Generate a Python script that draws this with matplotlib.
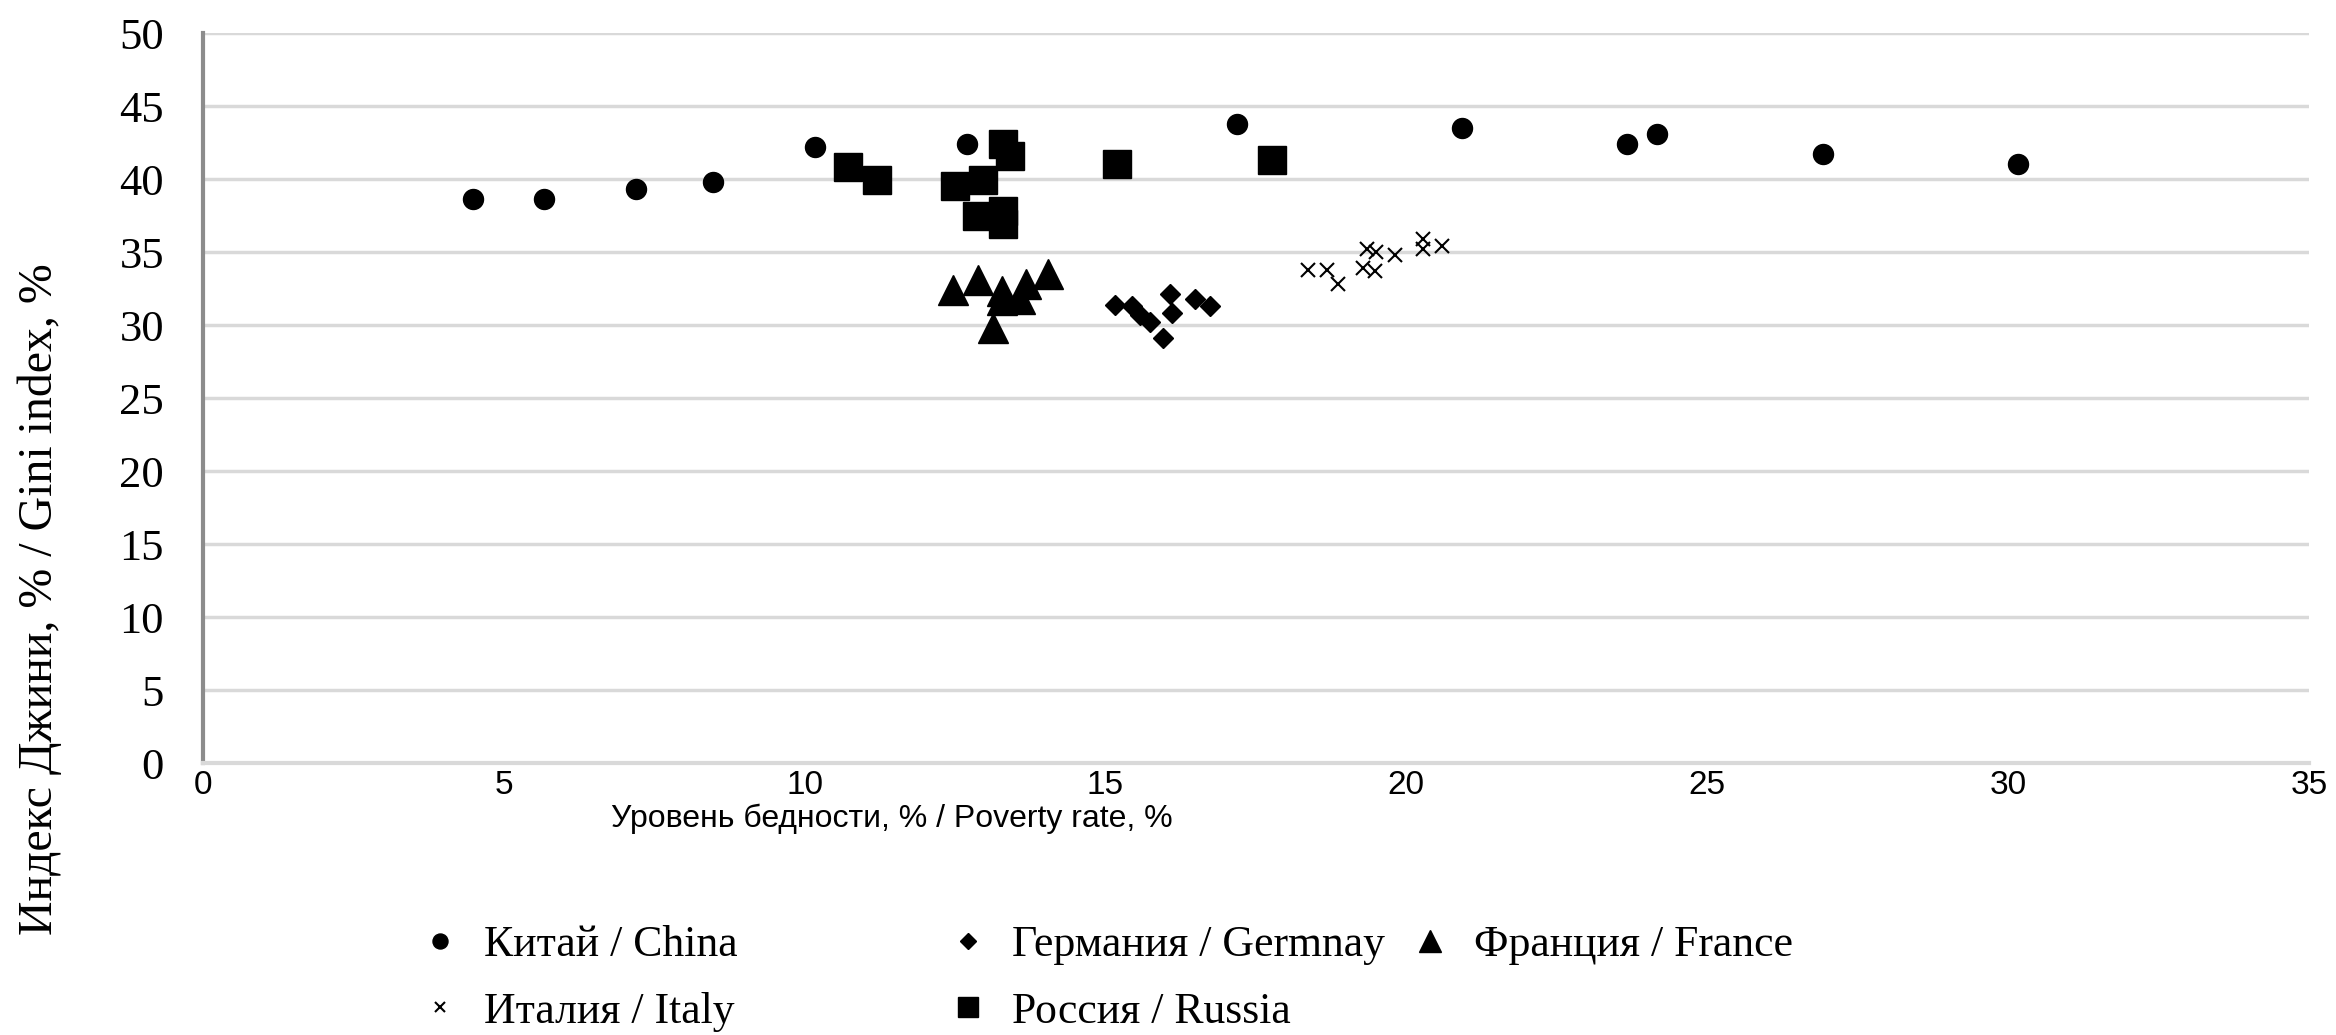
import numpy as np
import matplotlib
matplotlib.use("Agg")
import matplotlib.pyplot as plt

#poverty rate (x) and gini index (y) for each country
china_x=[4.49,5.67,7.2,8.48,10.17,12.70,17.18,20.92,23.67,24.17,26.93,30.17]
china_y=[38.6,38.6,39.3,39.8,42.2,42.4,43.8,43.5,42.4,43.1,41.7,41.0]

germany_x=[15.16,15.44,15.57,15.74,15.95,16.07,16.1,16.49,16.74]
germany_y=[31.4,31.3,30.7,30.2,29.1,32.1,30.8,31.8,31.3]

france_x=[12.47,12.88,13.28,13.68,14.04,13.28,13.58,13.13]
france_y=[32.4,33.1,32.3,32.8,33.5,31.7,31.8,29.8]

italy_x=[18.37,18.68,18.86,19.35,19.5,19.28,19.48,19.81,20.28,20.28,20.59]
italy_y=[33.8,33.8,32.8,35.2,35.0,33.9,33.7,34.8,35.9,35.2,35.4]

russia_x=[10.72,11.2,13.29,13.41,12.50,12.96,12.86,13.29,13.29,15.19,17.77]
russia_y=[40.8,39.9,42.4,41.6,39.5,39.9,37.5,37.8,36.9,41.0,41.3]

labels=["Китай / China","Германия / Germnay","Франция / France",
        "Италия / Italy","Россия / Russia"]

xticks=[0,5,10,15,20,25,30,35]
yticks=[0,5,10,15,20,25,30,35,40,45,50]

serif=["Liberation Serif","DejaVu Serif"]
sans=["Liberation Sans","DejaVu Sans"]

fig=plt.figure(figsize=(23.36,10.35),dpi=100)
ax=fig.add_axes([0.0869,0.2628,0.9015,0.7053])

#scatter every country, black markers
h_china,=ax.plot(china_x,china_y,"o",color="black",ms=14.4,ls="none")
h_germ,=ax.plot(germany_x,germany_y,"D",color="black",ms=10.2,ls="none")
h_fr,=ax.plot(france_x,france_y,"^",color="black",ms=22,ls="none")
h_it,=ax.plot(italy_x,italy_y,"x",color="black",ms=10,mew=1.5,ls="none")
h_ru,=ax.plot(russia_x,russia_y,"s",color="black",ms=19.8,ls="none")

ax.set_xlim(0,35)
ax.set_ylim(0,50)
ax.set_xticks(xticks)
ax.set_yticks(yticks)
ax.set_xticklabels([str(t) for t in xticks],family=sans,fontsize=24)
ax.set_yticklabels([str(t) for t in yticks],family=serif,fontsize=32)
ax.tick_params(axis="both",length=0)
ax.tick_params(axis="x",pad=5)
ax.tick_params(axis="y",pad=28)

#gridlines
ax.grid(axis="y",color="#d9d9d9",lw=2.5)
ax.set_axisbelow(True)
for s in ["top","right"]:
    ax.spines[s].set_visible(False)
ax.spines["left"].set_color("#8c8c8c")
ax.spines["left"].set_linewidth(3)
ax.spines["bottom"].set_color("#d9d9d9")
ax.spines["bottom"].set_linewidth(3)

#axis labels
ax.set_xlabel("Уровень бедности, % / Poverty rate, %",family=sans,fontsize=23)
ax.xaxis.set_label_coords(0.327,-0.055)
fig.text(0.017,0.421,"Индекс Джини, % / Gini index, %",family=serif,fontsize=34.5,
         rotation=90,ha="center",va="center")

#legend, three columns laid out like the original
cols=[[h_china,h_it],[h_germ,h_ru],[h_fr]]
collabels=[[labels[0],labels[3]],[labels[1],labels[4]],[labels[2]]]
colx=[0.1715,0.3975,0.5955]
for i in range(3):
    leg=fig.legend(cols[i],collabels[i],loc="upper left",bbox_to_anchor=(colx[i],0.127),
                   frameon=False,prop={"family":serif,"size":31.5},markerscale=0.75,
                   handlelength=0.8,handletextpad=0.6,labelspacing=0.6,borderpad=0)

fig.savefig("out.png",dpi=100)
